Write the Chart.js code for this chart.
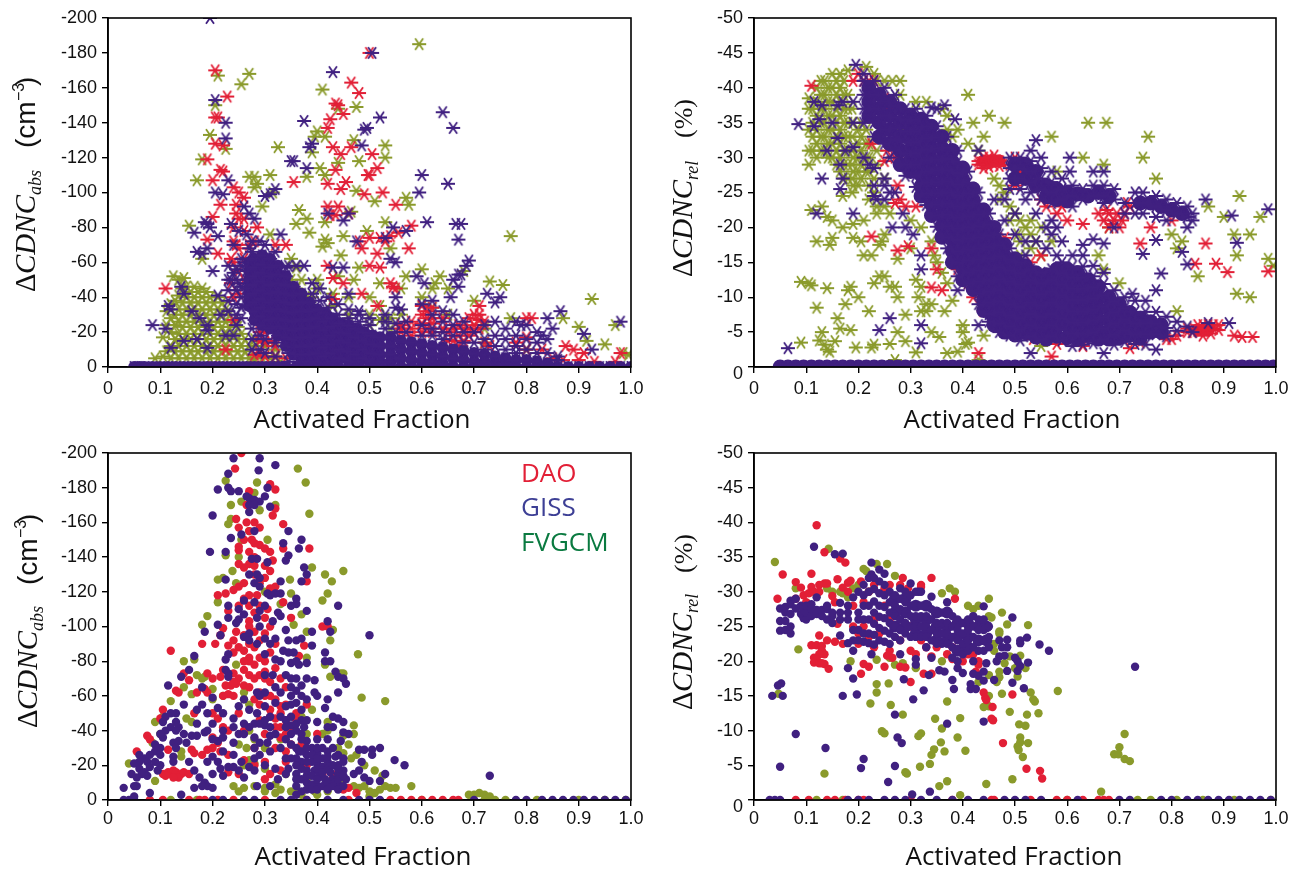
<!DOCTYPE html>
<html><head><meta charset="utf-8">
<style>html,body{margin:0;background:#fff}canvas{position:absolute}</style>
<script src="https://cdn.jsdelivr.net/npm/chart.js@4"></script>
</head><body>
<script>
const COLORS={FVGCM:'#8a9a2b',DAO:'#e21f36',GISS:'#402080'};
const xTicks=[0,.1,.2,.3,.4,.5,.6,.7,.8,.9,1];
const seriesNames=['GISS','DAO','FVGCM'];
// each row: x followed by the y values read at that x
const absStarFv=[[.09,-5],[.105,-6,-17],[.12,-5,-12,-20,-28,-36],[.125,-52],[.135,-5,-12,-19,-26,-33,-41,-50],[.145,-51],[.15,-5,-12,-19,-26,-33,-40,-46],[.155,-81],[.165,-5,-12,-19,-26,-33,-40,-46],[.17,-107],[.18,-5,-12,-19,-26,-33,-40,-45,-62,-119],[.195,-5,-12,-19,-26,-33,-40,-133],[.205,-150],[.21,-5,-12,-19,-26,-33,-40,-167],[.225,-5,-12,-19,-26,-33,-125],[.24,-5,-12,-19,-26],[.255,-5,-12,-19,-162],[.27,-5,-12,-109,-168],[.28,-5,-12,-103,-109],[.285,-105],[.295,-5,-92],[.31,-5,-110,-76],[.315,-100],[.325,-126],[.33,-3],[.35,-62],[.36,-82],[.365,-90],[.37,-50],[.38,-85,-109,-40],[.385,-77],[.39,-123,-40],[.395,-132],[.4,-135],[.405,-114],[.41,-159,-69],[.415,-132,-110,-83,-73],[.42,-71],[.44,-148,-117,-52],[.445,-64],[.45,-75],[.47,-130,-50],[.475,-149,-101],[.48,-118,-57],[.465,-89],[.495,-78],[.51,-95],[.52,-48],[.53,-127,-120,-83,-28],[.54,-68],[.57,-97,-52],[.575,-93],[.595,-185],[.6,-56],[.625,-48],[.635,-52],[.68,-55],[.73,-49],[.755,-47],[.77,-75,-28],[.87,-28],[.9,-23],[.915,-15],[.925,-39],[.95,-13],[.97,-24],[.985,-8],[.995,-7],
[.112,-9,-24,-32],[.128,-9,-16,-24,-30,-38],[.142,-9,-16,-23,-30,-37,-45],[.158,-9,-16,-23,-30,-37,-43],[.172,-9,-16,-23,-30,-37,-43],[.188,-9,-16,-23,-30,-37,-43],[.202,-9,-16,-23,-30,-37],[.218,-9,-16,-23,-30,-37],[.232,-9,-16,-23,-30],[.248,-9,-16,-23],[.262,-9,-16],[.28,-16,-3],[.3,-12],[.32,-10,-6],[.36,-57,-45],[.35,-50],[.4,-50,-45],[.43,-42,-35],[.46,-40,-30],[.5,-40,-30,-24],[.52,-35,-27],[.54,-28,-22],[.56,-45,-30],[.6,-40],[.62,-45,-34],[.65,-45,-30],[.7,-38],[.72,-22,-14],[.8,-10]];
const absStarDao=[[.2,-86,-107],[.205,-170,-143,-128],[.21,-143,-65],[.215,-113,-93],[.19,-119,-73],[.11,-45],[.22,-112,-127],[.225,-10],[.228,-155],[.24,-103,-27,-72],[.245,-93,-88,-70],[.25,-100,-85,-55],[.26,-97,-50,-62],[.28,-7,-42],[.285,-80],[.3,-30,-20],[.31,-28,-15],[.32,-70,-35],[.34,-70,-5,-30],[.355,-106],[.42,-137,-105,-92,-58],[.425,-142,-87],[.43,-126,-51,-39],[.435,-151,-113,-87],[.44,-150,-92],[.445,-122,-102],[.45,-145,-48],[.455,-106],[.46,-88],[.465,-163,-126],[.48,-157,-72],[.485,-68,-42],[.49,-99],[.497,-110],[.5,-180,-110,-74,-58],[.505,-122],[.515,-114,-65,-35],[.52,-74,-57],[.525,-100],[.53,-72],[.54,-75,-48],[.545,-46],[.55,-93,-45],[.555,-77],[.56,-22],[.575,-68],[.58,-81,-22],[.6,-30,-20],[.61,-28],[.62,-25],[.66,-15],[.67,-18],[.68,-15],[.69,-28],[.7,-30],[.71,-35,-27],[.8,-28,-17],[.81,-28],[.875,-12],[.89,-10],[.91,-8],[.98,-8],
[.24,-80,-60,-40],[.26,-85,-78],[.27,-70,-55],[.235,-62,-48],[.25,-68,-42],[.28,-72,-62],[.29,-20,-15,-8],[.3,-14,-6],[.32,-12,-6],[.56,-20,-24],[.58,-26,-18],[.6,-25,-35],[.61,-22,-32],[.62,-28,-34,-20],[.64,-28,-22],[.65,-20,-15],[.66,-22],[.67,-12,-24],[.68,-22],[.69,-22,-18],[.7,-24,-20],[.71,-22,-30],[.72,-26,-14],[.73,-12],[.78,-14],[.8,-10],[.83,-10],[.85,-5],[.87,-4],[.9,-4],[.93,-3],[.97,-3]];
const absStarGiss=[[.085,-24],[.11,-22],[.115,-35],[.12,-33,-11],[.14,-46],[.145,-42,-15],[.16,-32],[.165,-77],[.17,-66,-16],[.175,-28],[.18,-65],[.185,-83],[.19,-82,-68,-24,-21,-11],[.195,-200,-80],[.2,-55],[.205,-153,-100],[.21,-75,-41],[.215,-30],[.22,-99],[.225,-140,-131,-18],[.23,-107],[.235,-82,-50],[.24,-70,-54,-18],[.25,-78,-48],[.255,-46],[.26,-92],[.265,-76,-60,-55,-50,-45,-40,-35],[.27,-88,-68],[.28,-85,-62,-57,-52,-47,-42,-37,-32,-27],[.295,-64,-59,-54,-49,-44,-39,-34,-29,-24],[.3,-98],[.31,-99,-62,-57,-52,-47,-42,-37,-32,-27,-22],[.32,-102],[.325,-58,-53,-48,-43,-38,-33,-28,-23,-18],[.33,-76],[.34,-57,-52,-47,-42,-37,-32,-27,-22,-17,-12],[.35,-118],[.355,-118,-46,-41,-36,-31,-26,-21,-16,-11,-7],[.36,-58],[.37,-42,-37,-32,-27,-22,-17,-12,-7,-3],[.375,-141,-58],[.38,-114],[.385,-126,-37,-32,-27,-22,-17,-12,-7,-3],[.39,-128],[.4,-33,-28,-23,-18,-13,-8,-3],[.415,-31,-26,-21,-16,-11,-6,-2],[.42,-88],[.43,-169,-57,-28,-23,-18,-13,-8,-3],[.445,-25,-20,-15,-10,-5],[.45,-84,-57],[.46,-88,-42,-24,-19,-14,-9,-4],[.475,-72,-22,-17,-12,-7,-3],[.485,-127],[.49,-136,-20,-15,-10,-5],[.495,-137],[.505,-180,-18,-13,-8,-3],[.52,-143,-17,-12,-7,-3],[.53,-74],[.54,-62,-17,-12,-7,-3],[.545,-80],[.55,-60,-40],[.56,-33,-15,-10,-5],[.57,-78],[.58,-14,-9,-4],[.59,-52],[.595,-100],[.6,-110,-13,-8,-3],[.605,-48],[.61,-83],[.62,-38,-12,-7,-3],[.64,-146,-11,-6,-2],[.65,-105],[.655,-40],[.66,-137,-50,-10,-5],[.665,-82],[.67,-73,-53,-46],[.675,-82,-53],[.68,-9,-4],[.685,-58],[.69,-61],[.7,-8,-3],[.72,-7,-3],[.725,-42],[.74,-37,-6,-2],[.75,-40],[.76,-22,-5,-2],[.78,-26,-4],[.79,-24],[.8,-4],[.82,-20,-3],[.83,-18],[.84,-28,-2],[.85,-22],[.865,-32],[.91,-19],[.925,-10],[.98,-26],
[.23,-58,-50,-44,-38,-32],[.245,-56,-50,-44,-36,-30,-24],[.255,-62,-58,-40,-34,-28],[.275,-72,-66,-22,-16,-10],[.29,-72,-18,-10],[.3,-70,-16,-8],[.32,-66,-14,-6],[.345,-8,-3,-58],[.39,-48,-42],[.405,-45,-38],[.42,-40,-34],[.44,-36,-30],[.46,-33,-28],[.48,-30,-26,-32],[.5,-28,-24],[.53,-26,-22,-30],[.55,-34,-25,-20],[.57,-26,-20],[.6,-24,-18,-36],[.62,-30,-22,-18],[.64,-32,-26,-20,-16],[.66,-30,-24,-18],[.68,-26,-20,-14],[.7,-20,-14],[.72,-24,-16,-10],[.74,-26,-18,-12],[.76,-16,-10],[.78,-18,-12,-8],[.8,-24,-16,-10],[.82,-14,-8],[.84,-16,-8],[.86,-6,-4]];
const absStarGissCore=[[.27,-60,-55,-50,-45,-40,-35],[.28,-62,-57,-52,-47,-42,-37,-32,-27],[.295,-64,-59,-54,-49,-44,-39,-34,-29,-24],[.31,-62,-57,-52,-47,-42,-37,-32,-27,-22],[.325,-58,-53,-48,-43,-38,-33,-28,-23,-18],[.34,-52,-47,-42,-37,-32,-27,-22,-17,-12],[.355,-46,-41,-36,-31,-26,-21,-16,-11,-7],[.37,-42,-37,-32,-27,-22,-17,-12,-7,-3],[.385,-37,-32,-27,-22,-17,-12,-7,-3],[.4,-33,-28,-23,-18,-13,-8,-3],[.415,-31,-26,-21,-16,-11,-6,-2],[.43,-28,-23,-18,-13,-8,-3],[.445,-25,-20,-15,-10,-5],[.46,-24,-19,-14,-9,-4],[.475,-22,-17,-12,-7,-3],[.49,-20,-15,-10,-5],[.505,-18,-13,-8,-3],[.52,-17,-12,-7,-3],[.54,-17,-12,-7,-3],[.56,-15,-10,-5],[.58,-14,-9,-4],[.6,-13,-8,-3],[.62,-12,-7,-3],[.64,-11,-6,-2],[.66,-10,-5],[.68,-9,-4],[.7,-8,-3],[.72,-7,-3],[.74,-6,-2],[.76,-5,-2],[.78,-4],[.8,-4],[.82,-3],[.84,-2]];
const absStarBaseX=[.05,.06,.07,.085,.1,.115,.13,.145,.16,.175,.19,.205,.22,.235,.25,.265,.28,.295,.31,.325,.34,.36,.38,.4,.42,.44,.46,.48,.5,.52,.54,.56,.58,.6,.62,.64,.66,.68,.7,.72,.74,.76,.78,.8,.82,.84,.86,.88,.9,.92,.94,.96,.98,1];

const relStarFv=[[.09,-12.2,-3.5],[.105,-12,-29,-31,-34,-37,-38.5],[.11,-11.7,-22.5],[.12,-18,-8.5,-30,-32,-34,-36,-38,-40],[.125,-3.8],[.13,-23,-5],[.135,-3.2,-31,-33,-35,-37,-39,-41],[.14,-11.3,-2.5,-21.5],[.145,-2.2,-17.5],[.15,-21,-18.5,-30,-32,-34,-36,-38,-40,-42],[.155,-3.7],[.16,-7],[.165,-5.5,-28,-30,-32,-34,-36,-38,-40,-42],[.17,-20,-24.5],[.175,-9],[.18,-11,-27,-29,-31,-33,-35,-37,-39,-42.5],[.185,-11.5,-5.3],[.19,-20.5,-18.5,-26,-28,-30],[.195,-2.8],[.2,-10,-26,-28,-30,-32,-34],[.205,-18],[.21,-21,-16],[.215,-28,-30,-32,-34,-43],[.22,-8,-24],[.225,-16,-2.8],[.23,-12,-3.2,-25,-27,-42],[.235,-22],[.24,-13,-17.5],[.245,-18],[.25,-13,-19,-23],[.26,-11.5,-22,-3.3],[.265,-41],[.27,-11.5,-1],[.275,-10,-15.5,-5],[.28,-39],[.29,-7.5,-3.7],[.3,-17,-21],[.31,-12.5,-2.1,-38],[.315,-10],[.32,-11.5,-8,-20],[.33,-9,-8],[.34,-9,-18,-5],[.345,-16],[.35,-15],[.355,-4.3],[.36,-13.5],[.365,-8],[.37,-12,-2],[.38,-33,-9.5],[.39,-2.2],[.4,-6,-5],[.405,-3.3],[.41,-39,-3.5],[.42,-35],[.43,-1],[.44,-33,-4.5],[.45,-36],[.46,-27],[.47,-26],[.48,-35,-25],[.49,-23],[.5,-22],[.505,-19],[.51,-18],[.52,-20],[.53,-19,-21],[.54,-18],[.55,-3],[.57,-33],[.58,-28],[.63,-30],[.64,-35],[.66,-16],[.67,-29,-14],[.675,-35],[.68,-20],[.7,-12],[.745,-30],[.755,-33],[.77,-27],[.8,-19],[.81,-17,-8],[.82,-18],[.85,-13],[.87,-23],[.9,-21.5],[.92,-19],[.925,-16,-10.5],[.93,-24.5],[.95,-19,-10],[.97,-21.5],[.985,-15.5],[.995,-14.5],
[.112,-31,-33,-35,-37],[.128,-31,-33,-35,-37,-39,-41],[.142,-30,-32,-34,-36,-38,-40],[.158,-29,-31,-33,-35,-37,-39,-41],[.172,-27,-29,-31,-33,-35,-37,-39,-41],[.188,-25,-27,-29,-31,-33,-35,-37],[.205,-27,-29,-31,-33,-35],[.22,-26,-28,-30,-32,-36],[.235,-23,-29,-31,-41],[.25,-27,-41],[.28,-34,-41],[.37,-36,-34],[.39,-34],[.41,-32],[.43,-31],[.36,-37],[.33,-38],[.47,-24],[.49,-21],[.51,-21,-16],[.53,-17],[.55,-20,-16],[.57,-18]];
const relStarDao=[[.11,-40.3],[.19,-41],[.2,-42],[.21,-41],[.22,-41],[.225,-32,-18.7],[.23,-41],[.24,-39],[.25,-38.5,-29.5],[.255,-31],[.26,-37],[.27,-30,-23.5],[.275,-26,-16.7],[.28,-24],[.29,-23],[.295,-17.3],[.3,-30],[.31,-23],[.34,-17,-11.4],[.35,-14],[.36,-11],[.39,-14],[.41,-15,-12],[.42,-10],[.43,-29.5,-15,-2],[.44,-28.5,-8],[.45,-30,-8],[.46,-29,-7],[.47,-29.5],[.48,-18.5],[.49,-29,-10],[.5,-30,-26],[.51,-28],[.52,-27],[.53,-15,-5],[.535,-4],[.55,-24,-16],[.56,-23],[.57,-1.5],[.58,-22,-3.3],[.59,-23],[.6,-21],[.63,-20.5,-3],[.66,-22],[.67,-21],[.68,-22,-20],[.69,-21],[.7,-20,-8],[.71,-22],[.715,-23.5],[.72,-23,-7,-2.7],[.74,-17.7,-3.5],[.76,-20],[.79,-4],[.8,-21,-4],[.81,-4.5],[.83,-5.5],[.84,-5],[.845,-14.8],[.85,-5.2],[.86,-6],[.865,-17.7],[.87,-5.5],[.88,-5.5],[.885,-14.8],[.89,-5.3],[.907,-13.6],[.92,-4.5],[.935,-4.3],[.955,-4.3],[.985,-13.7],
[.43,-29],[.44,-30],[.45,-28.7],[.46,-30.3],[.47,-28.8],[.83,-5],[.85,-6],[.86,-4.5],[.87,-6],[.875,-4.8],[.88,-6],[.89,-6],[.865,-5.5],[.675,-22.5],[.685,-20.5],[.695,-22],[.705,-21]];
const relStarDaoCore=[[.44,-29.5],[.455,-29.5],[.47,-29.5],[.85,-5.3],[.87,-5.3]];
const relStarGiss=[[.065,-2.7],[.085,-34.8],[.115,-38,-34.5],[.12,-22],[.125,-35.5],[.13,-37.5,-27],[.14,-31],[.15,-35],[.16,-37.5,-32.8],[.165,-29,-25.5],[.17,-38,-27],[.175,-31],[.19,-38,-35,-31.5,-22],[.195,-43.3],[.21,-42,-41,-39,-37,-35,-30],[.23,-41,-39,-37,-35,-33,-26,-24.5,-28.5],[.24,-5.3],[.25,-40,-38,-36,-34,-32,-26,-24],[.26,-7],[.265,-20],[.27,-39,-37.4,-35.8,-34.2,-32.6,-31,-25],[.285,-22],[.29,-37,-35.4,-33.8,-32.2,-30.6,-29,-27.4,-20],[.305,-19],[.31,-37,-35.4,-33.8,-32.2,-30.6,-29,-27.4,-25.8],[.32,-16,-14,-6,-3.4],[.33,-36,-34.4,-32.8,-31.2,-29.6,-28,-26.4,-24.8,-23.2],[.34,-37.2],[.35,-37,-34.5,-32.9,-31.3,-29.7,-28.1,-26.5,-24.9,-23.3,-21.7,-20.1],[.365,-37.5],[.37,-33,-31.4,-29.8,-28.2,-26.6,-25,-23.4,-21.8,-20.2,-18.6,-17],[.385,-35.5],[.39,-31,-29.4,-27.8,-26.2,-24.6,-23,-21.4,-19.8,-18.2,-16.6,-15,-13,-11],[.41,-28,-26.4,-24.8,-23.2,-21.6,-20,-18.4,-16.8,-15.2,-13.6,-12],[.43,-31,-25,-23.4,-21.8,-20.2,-18.6,-17,-15.4,-13.8,-12.2,-10.6,-9,-6],[.45,-22,-20.4,-18.8,-17.2,-15.6,-14,-12.4,-10.8,-9.2,-7.6,-6.5],[.47,-19,-17.4,-15.8,-14.2,-12.6,-11,-9.4,-7.8,-6.2,-5],[.49,-30,-28.5,-27,-25.5,-17,-15.4,-13.8,-12.2,-10.6,-9,-7.4,-5.8,-4.5],[.51,-30,-28.5,-27,-25.5,-15,-13.4,-11.8,-10.2,-8.6,-7,-5.4,-3.8],[.53,-31,-29.5,-28,-26.5,-25,-14,-12.4,-10.8,-9.2,-7.6,-6,-4.4,-2],[.54,-32.5],[.55,-30,-28.5,-27,-25.5,-24,-13.5,-12,-10.4,-8.8,-7.2,-5.6,-4],[.57,-28,-26.5,-25,-23.5,-21,-19,-14,-12.4,-10.8,-9.2,-7.6,-6,-4.4],[.59,-27,-25.5,-24,-18,-15,-13.4,-11.8,-10.2,-8.6,-7,-5.4,-3.8],[.605,-30,-28],[.61,-26,-24.5,-23,-16,-14.4,-12.8,-11.2,-9.6,-8,-6.4,-4.8,-3],[.63,-25.5,-24,-17.5,-16,-14.4,-12.8,-11.2,-9.6,-8,-6.4,-4.8,-3.2],[.65,-28,-26,-24.5,-18.3,-14.5,-13,-11.4,-9.8,-8.2,-6.6,-5,-3.4],[.67,-28,-26,-24.5,-23.5,-17.7,-13.5,-11.9,-10.3,-8.7,-7.1,-5.5,-3.9,-2],[.69,-25.5,-24,-20,-11,-9.4,-7.8,-6.2,-4.6,-3.2],[.71,-23.5,-22,-10,-8.4,-6.8,-5.2,-3.6],[.725,-10.5],[.73,-25,-23.5,-22,-9.5,-7.9,-6.3,-4.7,-3.3],[.745,-25,-23.5,-22,-16.2],[.75,-9.5,-7.9,-6.3,-4.7,-3.2],[.77,-24.5,-23,-21.5,-18.2,-11,-7.9,-6.3,-4.7,-2.5],[.78,-13.4],[.79,-24,-22.5,-21,-7.2,-5.6,-4.4],[.81,-23.5,-22,-6.5,-5.2],[.82,-16.5],[.83,-23,-21.5,-20,-14.7,-5.8],[.84,-22,-21,-5],[.865,-24],[.87,-6.3],[.91,-6.3],[.915,-21.7],[.925,-17.8],[.985,-22.6],
[.22,-29],[.235,-24],[.25,-27],[.26,-25,-30],[.5,-22,-19],[.52,-24,-18,-16],[.54,-22,-18],[.56,-20,-17],[.58,-20,-16],[.48,-24,-21],[.46,-24]];
const relStarGissCore=[[.22,-40,-38,-36],[.24,-39,-37,-35,-33],[.26,-38,-36,-34,-32],[.28,-37,-35,-33,-31,-29],[.3,-36,-34.4,-32.8,-31.2,-29.6,-28],[.32,-35.5,-33.9,-32.3,-30.7,-29.1,-27.5,-25.9,-24.5],[.34,-34.5,-32.9,-31.3,-29.7,-28.1,-26.5,-24.9,-23.3,-21.7],[.36,-33,-31.4,-29.8,-28.2,-26.6,-25,-23.4,-21.8,-20.2,-18.6],[.38,-31,-29.4,-27.8,-26.2,-24.6,-23,-21.4,-19.8,-18.2,-16.6,-15],[.4,-28.5,-26.9,-25.3,-23.7,-22.1,-20.5,-18.9,-17.3,-15.7,-14.1,-12.5],[.42,-25.5,-23.9,-22.3,-20.7,-19.1,-17.5,-15.9,-14.3,-12.7,-11.1],[.44,-22.5,-20.9,-19.3,-17.7,-16.1,-14.5,-12.9,-11.3,-9.7,-8.1],[.46,-20,-18.4,-16.8,-15.2,-13.6,-12,-10.4,-8.8,-7.2,-6],[.48,-17.5,-15.9,-14.3,-12.7,-11.1,-9.5,-7.9,-6.3,-5],[.5,-15.5,-13.9,-12.3,-10.7,-9.1,-7.5,-5.9,-4.6],[.52,-14.5,-12.9,-11.3,-9.7,-8.1,-6.5,-4.9],[.54,-13.5,-11.9,-10.3,-8.7,-7.1,-5.5,-4.3],[.56,-13.2,-11.6,-10,-8.4,-6.8,-5.2,-4],[.58,-14,-12.4,-10.8,-9.2,-7.6,-6,-4.4],[.6,-14,-12.4,-10.8,-9.2,-7.6,-6,-4.2],[.62,-13.5,-11.9,-10.3,-8.7,-7.1,-5.5,-4],[.64,-12.5,-10.9,-9.3,-7.7,-6.1,-4.5],[.66,-11.5,-9.9,-8.3,-6.7,-5.1,-4],[.68,-10,-8.4,-6.8,-5.2,-4],[.7,-9,-7.4,-5.8,-4.2],[.72,-7.8,-6.2,-4.6],[.74,-7,-5.4,-4.2],[.76,-6.5,-5],[.78,-6,-5],[.5,-29,-27],[.52,-29,-27],[.54,-28,-26],[.56,-26,-24.5],[.58,-25.5,-24],[.6,-25,-23.8],[.62,-24.8],[.64,-24.5],[.66,-25],[.68,-24.5],[.74,-23.5],[.76,-23.5],[.78,-23],[.8,-22.5],[.82,-22]];
const relStarBaseX=[.05,.065,.08,.095,.11,.125,.14,.155,.17,.185,.2,.215,.23,.245,.26,.275,.29,.305,.32,.335,.35,.365,.38,.395,.41,.425,.44,.455,.47,.485,.5,.515,.53,.545,.56,.575,.59,.605,.62,.635,.65,.665,.68,.695,.71,.725,.74,.755,.77,.785,.8,.815,.83,.845,.86,.875,.89,.905,.92,.935,.95,.965,.98,.995];

const absDotFv=[[.363,-191],[.378,-183],[.225,-184],[.28,-177],[.285,-183],[.255,-172],[.235,-170],[.32,-170],[.385,-165],[.23,-159],[.235,-162],[.29,-167],[.255,-150],[.305,-150],[.27,-155],[.225,-141],[.39,-134],[.45,-132],[.238,-132],[.21,-127],[.22,-128],[.415,-130],[.428,-126],[.348,-127],[.245,-125],[.42,-119],[.41,-115],[.35,-119],[.21,-114],[.19,-106],[.18,-101],[.33,-113],[.37,-107],[.355,-101],[.38,-97],[.43,-98],[.425,-92],[.145,-80],[.165,-81],[.478,-84],[.38,-82],[.415,-78],[.245,-78],[.45,-73],[.445,-73],[.17,-72],[.18,-70],[.185,-71],[.425,-71],[.145,-65],[.16,-61],[.2,-64],[.485,-59],[.53,-57],[.12,-57],[.26,-62],[.26,-58],[.27,-55],[.2,-58],[.39,-52],[.105,-48],[.09,-45],[.15,-47],[.16,-45],[.37,-48],[.42,-45],[.47,-43],[.47,-38],[.1,-38],[.085,-33],[.14,-28],[.14,-25],[.38,-38],[.42,-40],[.45,-37],[.25,-32],[.265,-30],[.3,-30],[.27,-23],[.28,-21],[.3,-18],[.45,-27],[.465,-24],[.475,-26],[.49,-20],[.51,-17],[.525,-14],[.09,-11],[.24,-8],[.26,-7],[.28,-8],[.25,-5],[.3,-7],[.32,-9],[.32,-4],[.35,-5],[.36,-5],[.395,-5],[.4,-3],[.47,-8],[.48,-7],[.5,-5],[.51,-4],[.53,-8],[.54,-7],[.55,-7],[.58,-8],[.69,-3],[.7,-3],[.71,-4],[.72,-3],[.73,-2],[.445,-11],[.04,-21],[.5,-2],[.37,-3],
[.25,-140],[.3,-120],[.22,-60],[.27,-40],[.28,-35],[.26,-20],[.33,-35],[.34,-15],[.3,-5],[.33,-6],[.44,-30],[.46,-32],[.41,-38],[.38,-12],[.42,-5],[.49,-8],[.52,-6]];
const absDotDao=[[.255,-200],[.243,-191],[.31,-182],[.32,-179],[.27,-178],[.265,-170],[.32,-168],[.315,-164],[.245,-162],[.335,-159],[.25,-157],[.265,-160],[.28,-160],[.29,-157],[.27,-155],[.275,-150],[.25,-146],[.29,-147],[.3,-145],[.335,-145],[.385,-145],[.27,-143],[.31,-143],[.315,-138],[.27,-136],[.26,-134],[.3,-135],[.31,-132],[.28,-130],[.38,-126],[.32,-123],[.25,-123],[.24,-121],[.21,-118],[.225,-119],[.26,-116],[.335,-114],[.27,-112],[.305,-110],[.23,-109],[.35,-105],[.41,-100],[.42,-100],[.22,-99],[.245,-97],[.28,-97],[.3,-96],[.215,-95],[.18,-90],[.205,-90],[.375,-89],[.23,-89],[.25,-88],[.12,-86],[.26,-86],[.27,-82],[.365,-83],[.27,-80],[.28,-78],[.26,-75],[.32,-76],[.3,-74],[.145,-73],[.19,-73],[.215,-71],[.25,-70],[.27,-72],[.3,-70],[.155,-69],[.185,-64],[.225,-66],[.235,-66],[.245,-67],[.26,-66],[.13,-63],[.135,-62],[.19,-62],[.34,-65],[.23,-61],[.3,-60],[.38,-55],[.105,-52],[.165,-50],[.2,-50],[.25,-50],[.31,-52],[.36,-50],[.1,-47],[.21,-47],[.32,-47],[.36,-46],[.22,-42],[.33,-42],[.075,-37],[.08,-35],[.3,-38],[.34,-38],[.115,-29],[.16,-29],[.165,-27],[.18,-26],[.2,-30],[.215,-28],[.055,-28],[.23,-26],[.32,-30],[.34,-28],[.105,-15],[.115,-16],[.12,-15],[.125,-17],[.13,-16],[.14,-15],[.135,-13],[.145,-16],[.155,-15],[.125,-13],[.11,-14],[.23,-16],[.25,-15],[.31,-15],[.33,-17],[.3,-12],[.43,-13],[.46,-7],[.45,-6],[.475,-4],[.19,-29],[.21,-33],[.26,-23],[.29,-46],[.33,-54],[.28,-58],[.24,-73],[.29,-82],[.31,-85],[.24,-92],[.27,-103],[.285,-118],
[.25,-144,-136,-112],[.26,-150,-125,-95,-80],[.27,-118,-100,-90,-65],[.28,-148,-140,-135,-108,-88,-70],[.29,-125,-112,-92,-72,-62,-55],[.3,-128,-105,-80],[.31,-122,-100,-68,-60,-48],[.32,-90,-58,-42],[.33,-70,-50,-36],[.34,-55,-46,-22],[.35,-40,-32],[.24,-85,-68,-60],[.22,-75,-60],[.2,-70,-36],[.17,-62],[.23,-40],[.26,-40],[.28,-30,-20],[.3,-22],[.37,-32],[.38,-20],[.41,-15],[.42,-10],[.44,-16],[.4,-38]];
const absDotGiss=[[.24,-197],[.29,-197],[.288,-190],[.32,-193],[.23,-188],[.21,-179],[.23,-180],[.235,-178],[.25,-178],[.265,-175],[.27,-174],[.28,-173],[.29,-172],[.3,-175],[.305,-180],[.27,-170],[.28,-170],[.27,-166],[.2,-164],[.31,-169],[.28,-155],[.345,-155],[.255,-153],[.235,-151],[.37,-150],[.335,-148],[.365,-145],[.195,-143],[.225,-143],[.345,-141],[.34,-138],[.275,-139],[.285,-139],[.305,-137],[.375,-134],[.38,-130],[.27,-130],[.285,-130],[.29,-128],[.225,-127],[.28,-125],[.33,-126],[.37,-126],[.29,-123],[.305,-119],[.31,-118],[.32,-119],[.33,-119],[.36,-116],[.36,-113],[.35,-112],[.44,-112],[.23,-112],[.26,-115],[.28,-114],[.3,-112],[.38,-109],[.25,-110],[.29,-109],[.325,-108],[.33,-106],[.23,-105],[.25,-104],[.26,-107],[.285,-105],[.42,-103],[.21,-101],[.245,-102],[.315,-103],[.29,-100],[.34,-98],[.39,-97],[.425,-97],[.185,-97],[.215,-95],[.26,-94],[.27,-96],[.27,-92],[.3,-93],[.32,-93],[.345,-92],[.36,-92],[.37,-93],[.31,-90],[.285,-90],[.39,-89],[.335,-86],[.345,-85],[.355,-85],[.3,-84],[.415,-85],[.23,-84],[.225,-81],[.32,-81],[.33,-80],[.35,-79],[.36,-80],[.365,-78],[.38,-79],[.165,-83],[.155,-75],[.415,-80],[.425,-80],[.225,-75],[.23,-73],[.23,-71],[.34,-72],[.35,-70],[.36,-70],[.3,-72],[.315,-72],[.14,-71],[.395,-69],[.38,-70],[.435,-74],[.44,-71],[.45,-70],[.455,-67],[.115,-66],[.18,-65],[.32,-65],[.33,-62],[.35,-65],[.36,-63],[.37,-60],[.3,-62],[.285,-62],[.395,-62],[.4,-60],[.42,-58],[.44,-62],[.35,-55],[.37,-52],[.38,-58],[.2,-59],[.145,-55],[.18,-55],[.17,-52],[.19,-50],[.21,-53],[.22,-50],[.27,-52],[.285,-50],[.12,-50],[.13,-50],[.415,-53],[.43,-48],[.44,-47],[.45,-45],[.11,-48],[.105,-45],[.24,-47],[.28,-44],[.3,-43],[.31,-42],[.34,-46],[.35,-43],[.375,-42],[.4,-45],[.42,-42],[.43,-42],[.45,-39],[.46,-38],[.11,-40],[.12,-42],[.135,-42],[.13,-40],[.145,-38],[.185,-39],[.19,-40],[.22,-40],[.25,-38],[.26,-38],[.31,-37],[.35,-38],[.36,-40],[.37,-38],[.105,-36],[.1,-38],[.125,-33],[.135,-34],[.15,-33],[.09,-32],[.09,-28],[.1,-30],[.21,-34],[.2,-35],[.24,-33],[.29,-33],[.305,-33],[.34,-35],[.38,-34],[.39,-30],[.4,-35],[.42,-35],[.445,-34],[.48,-29],[.49,-29],[.505,-29],[.52,-30],[.505,-26],[.09,-22],[.07,-24],[.075,-22],[.06,-22],[.05,-21],[.045,-15],[.055,-13],[.06,-18],[.065,-15],[.07,-16],[.075,-14],[.095,-17],[.1,-20],[.125,-25],[.125,-22],[.155,-22],[.165,-17],[.175,-13],[.185,-10],[.19,-8],[.2,-7],[.19,-22],[.2,-25],[.21,-22],[.215,-18],[.23,-19],[.24,-19],[.25,-17],[.255,-22],[.27,-19],[.28,-17],[.26,-13],[.325,-12],[.34,-15],[.36,-24],[.37,-22],[.38,-26],[.38,-17],[.39,-22],[.395,-17],[.4,-27],[.4,-21],[.405,-14],[.41,-24],[.41,-19],[.415,-12],[.42,-28],[.42,-22],[.425,-16],[.43,-12],[.435,-25],[.44,-20],[.44,-15],[.44,-9],[.45,-22],[.45,-17],[.455,-12],[.47,-15],[.48,-17],[.49,-13],[.5,-11],[.52,-11],[.53,-15],[.548,-23],[.567,-20],[.485,-22],[.5,-95],[.365,-28],[.35,-24],[.345,-18],[.36,-15],[.37,-12],[.38,-10],[.39,-9],[.4,-8],[.415,-8],[.03,-7],[.05,-8],[.055,-8],[.08,-4],[.14,-3],[.165,-7],[.18,-8],[.73,-14],[.285,-8],[.31,-8],[.36,-3],[.05,-2],
[.36,-30,-20,-12,-8],[.37,-35,-28,-18,-5],[.38,-30,-22,-14,-6],[.39,-26,-14,-6],[.4,-30,-24,-18,-12,-6],[.41,-30,-16,-8],[.42,-25,-18,-10,-6],[.43,-30,-20,-8],[.44,-26,-18,-12,-6],[.45,-24,-14,-8],[.28,-36,-30,-24],[.29,-60,-44,-26],[.3,-54,-46,-20],[.31,-48,-28],[.32,-56,-38,-18],[.33,-48,-30],[.34,-54,-42,-24],[.35,-60,-48,-32],[.36,-56,-44],[.37,-66,-46],[.38,-46],[.27,-42],[.26,-58,-44],[.25,-54],[.24,-42,-26],[.22,-36,-28,-14],[.2,-44,-15],[.17,-44,-37],[.16,-37],[.13,-45,-30],[.1,-26],[.08,-26,-19],[.06,-26]];
const absDotBaseFv=[.12,.17,.6,.72,.74,.76,.82,.9,.95,.99];
const absDotBaseDao=[.08,.105,.155,.175,.185,.21,.24,.3,.38,.46,.54,.56,.58,.6,.62,.64,.66,.67];
const absDotBaseGiss=[.03,.04,.05,.2,.22,.26,.28,.33,.35,.38,.42,.45,.48,.5,.52,.7,.78,.8,.83,.85,.87,.89,.91,.93,.95,.97,.99];

const relDotFv=[[.04,-34.3],[.143,-36.2],[.255,-34],[.21,-33.3],[.215,-33],[.235,-34],[.27,-32.3],[.375,-30.5],[.385,-30],[.36,-29.8],[.45,-29],[.08,-30.5],[.14,-30.5],[.165,-30],[.17,-29.8],[.41,-28],[.42,-27.5],[.43,-28],[.45,-26.5],[.455,-26.3],[.475,-27],[.485,-25.3],[.525,-25.2],[.47,-24.3],[.47,-24],[.46,-22.5],[.46,-21.5],[.085,-21.7],[.185,-20],[.235,-20.2],[.26,-20.5],[.27,-19.5],[.285,-19.7],[.31,-19],[.36,-20],[.49,-20.7],[.51,-20.8],[.48,-19.7],[.5,-19],[.52,-19],[.47,-18.5],[.45,-18],[.47,-17.7],[.505,-17.8],[.43,-17],[.465,-17],[.235,-16.7],[.258,-16.8],[.047,-15.3],[.235,-15.5],[.45,-15],[.475,-15.3],[.53,-15.5],[.535,-14.5],[.538,-14.2],[.582,-15.7],[.223,-13.9],[.262,-13.7],[.37,-14.2],[.45,-13.5],[.44,-13.4],[.49,-12.7],[.285,-12.3],[.523,-12.3],[.545,-12.5],[.347,-11.7],[.395,-11.8],[.36,-10.3],[.508,-10.9],[.52,-10.7],[.245,-9.9],[.25,-9.6],[.315,-9.2],[.32,-9.6],[.39,-9],[.51,-9],[.71,-9.5],[.358,-8.3],[.51,-8.3],[.525,-8.2],[.345,-7.3],[.505,-7.7],[.507,-7.2],[.7,-7.6],[.365,-7],[.405,-7.1],[.34,-6.5],[.69,-6.6],[.698,-6.6],[.71,-5.9],[.72,-5.6],[.515,-6.2],[.337,-5.2],[.318,-4.8],[.135,-3.8],[.29,-4],[.293,-3.8],[.37,-2.7],[.355,-2],[.445,-2.3],[.495,-3],[.665,-1.2],[.395,-.7],[.19,-30.5],[.2,-31],[.12,-29.5],[.15,-30],[.18,-29.2],[.22,-30]];
const relDotDao=[[.12,-39.6],[.135,-35.7],[.165,-34.8],[.175,-34.2],[.055,-32.5],[.11,-32.6],[.285,-32],[.34,-32],[.08,-31.4],[.09,-30.6],[.11,-30.7],[.125,-31],[.135,-31.2],[.14,-31.2],[.16,-31.8],[.18,-31.3],[.185,-31.6],[.17,-30.6],[.205,-31.5],[.32,-31],[.32,-30.7],[.28,-31],[.295,-30.5],[.045,-29],[.095,-29.5],[.105,-29.8],[.115,-30],[.125,-30],[.15,-29.4],[.18,-30],[.385,-29],[.08,-29],[.1,-28.5],[.155,-28.5],[.19,-28],[.21,-28.5],[.16,-25.4],[.125,-23.7],[.14,-23],[.155,-22.8],[.17,-22.5],[.11,-22.3],[.12,-22.3],[.13,-22.2],[.13,-21.5],[.135,-21],[.125,-21],[.115,-20.5],[.12,-20.3],[.115,-19.8],[.125,-19.7],[.13,-19.7],[.135,-19.6],[.143,-18.9],[.205,-18.2],[.21,-19.6],[.22,-19.2],[.25,-19.2],[.255,-20.8],[.265,-20.5],[.28,-19.2],[.29,-19.1],[.31,-21],[.33,-22],[.3,-17],[.325,-18.2],[.34,-18.2],[.425,-18.5],[.44,-15.5],[.443,-14.7],[.445,-14.4],[.457,-13.4],[.455,-11.7],[.458,-11.5],[.495,-15.2],[.477,-8.2],[.522,-4.5],[.548,-4.2],[.552,-3.1],[.2,-24],[.21,-25],[.22,-23.5],[.23,-26],[.24,-24],[.25,-28],[.26,-26],[.27,-27],[.28,-23],[.3,-25],[.31,-24],[.32,-23],[.33,-26],[.35,-22],[.37,-21],[.38,-22],[.4,-22],[.41,-21],[.42,-21],[.43,-20],[.22,-30],[.23,-31],[.25,-30.5],[.26,-31],[.19,-25],[.2,-22.5],[.23,-22],[.26,-21.5],[.3,-21.5],[.34,-20.7],[.38,-20.3],[.4,-20],[.43,-19.5]];
const relDotGiss=[[.115,-36.5],[.155,-35.4],[.17,-35.5],[.225,-34.2],[.24,-33.2],[.225,-32.5],[.25,-32.6],[.3,-31.2],[.315,-30],[.73,-19.2],[.565,-21.5],[.547,-22.4],[.523,-23.4],[.495,-26.3],[.44,-27.9],[.035,-15],[.046,-16.5],[.052,-16.8],[.055,-15],[.05,-4.8],[.08,-9.5],[.137,-7.5],[.17,-15],[.197,-15.2],[.19,-17.5],[.18,-19],[.205,-4.6],[.21,-5.9],[.257,-2.6],[.27,-4.9],[.275,-9],[.283,-8.2],[.27,-12.3],[.287,-17.4],[.305,-14.5],[.325,-15.8],[.37,-11],[.44,-11.3],[.337,-1.2],[.303,-.8],[.38,-17.3],[.383,-16],[.415,-16.7],[.415,-16],[.425,-16],[.46,-17.3],[.44,-17.2],[.495,-16.9],[.517,-16.1],[.42,-18.2],[.43,-17.9],[.44,-18.5],[.31,-19.5],[.335,-18],[.355,-18.7],[.365,-18.5],[.39,-19],[.4,-18.3],[.485,-18.6],[.505,-18.6],[.525,-19.8],[.51,-19.3],[.505,-20],[.5,-20.5],[.47,-20.7],[.48,-20.8],[.465,-20],[.445,-19.7],[.485,-23.1],[.47,-23],[.51,-23],[.51,-22.6],[.475,-22],[.485,-22],[.28,-21],[.31,-20.3],[.34,-20.5],[.225,-21],[.05,-27.6],[.05,-25.8],[.05,-24.4],[.06,-27.8],[.06,-27],[.06,-25.8],[.06,-24.5],[.07,-28.7],[.07,-28.2],[.07,-26.8],[.07,-25],[.08,-29],[.08,-27.6],[.07,-24],[.09,-28],[.09,-26.8],[.095,-26.2],[.095,-27.5],[.1,-26],[.1,-27],[.1,-28],[.11,-26.5],[.11,-27.5],[.11,-28.2],[.12,-26.8],[.12,-27.4],[.12,-29.2],[.13,-26.5],[.13,-27.4],[.14,-26],[.14,-27.5],[.14,-28],[.15,-25.5],[.15,-26.5],[.15,-27],[.165,-27],[.165,-26],[.165,-28.4],[.165,-23.7],[.18,-27],[.18,-26],[.18,-28],[.18,-22.6],[.19,-29.2],[.19,-24.5],[.19,-21.5],[.19,-23],[.2,-27],[.2,-26],[.2,-24.5],[.2,-30],[.2,-23],[.21,-31],[.21,-29.5],[.21,-28],[.21,-26],[.21,-24],[.21,-22.8],[.22,-32],[.22,-30],[.22,-28],[.22,-26],[.22,-24],[.22,-22.6],[.23,-32],[.23,-30.4],[.23,-28.6],[.23,-27],[.23,-25.4],[.23,-23.8],[.23,-22.4],[.24,-31.5],[.24,-29.8],[.24,-28],[.24,-26.4],[.24,-24.8],[.24,-23],[.25,-31],[.25,-29.5],[.25,-27.8],[.25,-26.2],[.25,-24.4],[.25,-22.8],[.26,-30],[.26,-28.5],[.26,-27],[.26,-25.5],[.26,-24],[.26,-22.5],[.27,-29.5],[.27,-28],[.27,-26.5],[.27,-25],[.27,-23.5],[.28,-30.5],[.28,-29],[.28,-27.5],[.28,-26],[.28,-24.5],[.28,-23],[.29,-30],[.29,-28.5],[.29,-27],[.29,-25.5],[.29,-24],[.3,-29.5],[.3,-28],[.3,-26.5],[.3,-25],[.3,-23.5],[.31,-30],[.31,-28],[.31,-26.5],[.31,-25],[.31,-23.5],[.32,-30],[.32,-28],[.32,-26.5],[.32,-25],[.32,-23.5],[.33,-28],[.33,-26.5],[.33,-25],[.33,-23.5],[.33,-22],[.34,-29.3],[.34,-27.5],[.34,-26],[.34,-24.5],[.34,-23],[.35,-27],[.35,-25.5],[.35,-24],[.35,-22.5],[.36,-27],[.36,-25.5],[.36,-24],[.36,-22.5],[.37,-28.5],[.37,-27],[.37,-25.5],[.37,-24],[.37,-22.5],[.38,-26.5],[.38,-25],[.38,-23.5],[.38,-22],[.38,-20.5],[.39,-26],[.39,-24.5],[.39,-23],[.39,-21.5],[.39,-20],[.4,-25.5],[.4,-24],[.4,-22.5],[.4,-21],[.41,-26],[.41,-24.5],[.41,-23],[.41,-21.5],[.42,-26.5],[.42,-25],[.42,-23.5],[.42,-22],[.42,-20],[.43,-26],[.43,-24.5],[.43,-23],[.43,-21.5],[.44,-26],[.44,-24.5],[.44,-23],[.44,-21.5],[.45,-25],[.45,-23.5],[.45,-22]];
const relDotGissCore=[[.27,-29,-27,-25],[.29,-29,-27,-25],[.31,-28,-26,-24],[.33,-28,-26,-24],[.35,-27,-25,-23],[.37,-27,-25,-23],[.39,-25.5,-23.5,-21.5],[.41,-25.5,-23.5,-22],[.43,-25,-23],[.445,-25,-23]];
const relDotBaseFv=[.12,.17,.6,.735,.76,.81,.86,.92,.99];
const relDotBaseDao=[.08,.105,.14,.155,.175,.2,.21,.3,.38,.455,.46,.53,.58,.6,.63,.66,.67,.68];
const relDotBaseGiss=[.03,.04,.05,.18,.2,.22,.25,.27,.29,.32,.35,.38,.41,.44,.48,.5,.52,.55,.62,.7,.72,.78,.8,.83,.85,.87,.89,.91,.93,.95,.97,.99];

function rows(list,baseX){const pts=[];for(const r of list)for(let i=1;i<r.length;i++)pts.push({x:r[0],y:r[i]});
 if(baseX)for(const x of baseX)pts.push({x,y:0});return pts;}

function starImage(color){const c=document.createElement('canvas');c.width=16;c.height=14;const g=c.getContext('2d');
 g.strokeStyle=color;g.lineWidth=1.8;g.beginPath();
 g.moveTo(1,7);g.lineTo(15,7);g.moveTo(4,1.2);g.lineTo(12,12.8);g.moveTo(12,1.2);g.lineTo(4,12.8);g.stroke();return c;}

const frame={id:'frame',afterDatasetsDraw(ch){const ar=ch.chartArea,g=ch.ctx;g.save();g.strokeStyle='#000';g.lineWidth=1.6;
 g.strokeRect(ar.left,ar.top,ar.right-ar.left,ar.bottom-ar.top);g.restore();}};
const titles={id:'titles',afterDraw(ch,a,o){const g=ch.ctx;g.save();g.fillStyle='#111';g.textBaseline='alphabetic';
 g.font='26px "Open Sans"';g.textAlign='center';g.fillText('Activated Fraction',o.xt[0]-o.ox,o.xt[1]-o.oy);
 g.textAlign='left';
 for(const l of o.legend||[]){g.fillStyle=l[1];g.font='26px "Open Sans"';g.fillText(l[0],l[2]-o.ox,l[3]-o.oy);}
 g.fillStyle='#111';
 g.translate(o.yt.x-o.ox,-o.oy);g.rotate(-Math.PI/2);
 const run=(t,f,pos,dy)=>{g.font=f;g.fillText(t,-pos,dy||0);};
 run('Δ','29px "Liberation Serif"',o.yt.start);
 run('CDNC','italic 29px "Liberation Serif"',o.yt.start-18);
 run(o.yt.sub,'italic 18px "Liberation Serif"',o.yt.subPos,6);
 if(o.yt.sup){run('(cm','28px "Liberation Sans"',o.yt.unit);run('−3','16px "Liberation Sans"',o.yt.unit-47,-11);run(')','28px "Liberation Sans"',o.yt.unit-62);}
 else{run('(%)','26px "Liberation Serif"',o.yt.unit);}
 g.restore();}};

function panel(cfg){const W=650,H=435;const cv=document.createElement('canvas');cv.width=W;cv.height=H;
 cv.style.left=cfg.ox+'px';cv.style.top=cfg.oy+'px';cv.style.width=W+'px';cv.style.height=H+'px';document.body.appendChild(cv);
 const mk=(n,data)=>({label:n,data,showLine:false,clip:0,pointStyle:cfg.star?starImage(COLORS[n]):'circle',pointRadius:cfg.star?7:4.2,
  backgroundColor:COLORS[n],borderColor:COLORS[n],borderWidth:0});
 const core=(n,data,r)=>({label:n,data,showLine:false,clip:0,pointStyle:'circle',pointRadius:r,backgroundColor:COLORS[n],borderColor:COLORS[n],borderWidth:0});
 const sets=[mk('GISS',cfg.giss)];
 if(cfg.gissCore)sets.push(core('GISS',cfg.gissCore,cfg.coreR));
 sets.push(mk('DAO',cfg.dao));
 if(cfg.daoCore)sets.push(core('DAO',cfg.daoCore,cfg.coreR-1));
 sets.push(mk('FVGCM',cfg.fv));
 new Chart(cv,{type:'scatter',plugins:[frame,titles],data:{datasets:sets},
 options:{responsive:false,animation:false,events:[],
  layout:{padding:{left:0,top:cfg.top-cfg.oy,right:W-(cfg.right-cfg.ox),bottom:0}},
  plugins:{legend:{display:false},tooltip:{enabled:false},titles:{ox:cfg.ox,oy:cfg.oy,xt:cfg.xt,yt:cfg.yt,legend:cfg.legend}},
  scales:{
   x:{type:'linear',min:0,max:1,afterFit(s){s.height=H-(cfg.bottom-cfg.oy);},afterBuildTicks(s){s.ticks=xTicks.map(value=>({value}));},
    border:{color:'#000',width:1.6},grid:{drawOnChartArea:false,drawTicks:true,tickLength:6,color:'#000',lineWidth:1.4},
    ticks:{color:'#111',font:{family:'"Liberation Sans"',size:18},padding:cfg.star?5:2,maxRotation:0,autoSkip:false,callback:v=>v===0?'0':v.toFixed(1)}},
   y:{type:'linear',reverse:true,min:cfg.ymin,max:0,afterFit(s){s.width=cfg.left-cfg.ox;},
    border:{color:'#000',width:1.6},grid:{drawOnChartArea:false,drawTicks:true,tickLength:6,color:'#000',lineWidth:1.4},
    ticks:{stepSize:cfg.step,color:'#111',font:{family:'"Liberation Sans"',size:18,lineHeight:.8},padding:5,autoSkip:false,
     callback:v=>(v===0&&cfg.zeroLow)?['','0']:String(v)}}
  }}});}

panel({star:true,ox:0,oy:0,left:108,right:631,top:18,bottom:367,ymin:-200,step:20,coreR:6,
 fv:rows(absStarFv),dao:rows(absStarDao,[.2,.28,.33,.6,.85,.9]),giss:rows(absStarGiss,absStarBaseX),gissCore:rows(absStarGissCore,absStarBaseX),
 xt:[362,428],yt:{x:35,start:292,sub:'abs',subPos:195,sup:true,unit:148}});
panel({star:true,ox:650,oy:0,left:754,right:1276,top:18,bottom:367,ymin:-50,step:5,zeroLow:true,coreR:7.5,
 fv:rows(relStarFv),dao:rows(relStarDao,[.2,.29,.4]),daoCore:rows(relStarDaoCore),giss:rows(relStarGiss,relStarBaseX),gissCore:rows(relStarGissCore,relStarBaseX),
 xt:[1012,428],yt:{x:692,start:277,sub:'rel',subPos:180,unit:138}});
panel({star:false,ox:0,oy:435,left:108,right:631,top:453,bottom:800,ymin:-200,step:20,
 fv:rows(absDotFv,absDotBaseFv),dao:rows(absDotDao,absDotBaseDao),giss:rows(absDotGiss,absDotBaseGiss),
 xt:[363,865],yt:{x:37,start:728,sub:'abs',subPos:631,sup:true,unit:585},
 legend:[['DAO',COLORS.DAO,521,482],['GISS','#3d3f95',521,516],['FVGCM','#0a7a40',521,551]]});
panel({star:false,ox:650,oy:435,left:754,right:1276,top:453,bottom:800,ymin:-50,step:5,zeroLow:true,coreR:6,
 fv:rows(relDotFv,relDotBaseFv),dao:rows(relDotDao,relDotBaseDao),giss:rows(relDotGiss,relDotBaseGiss),gissCore:rows(relDotGissCore),
 xt:[1014,865],yt:{x:692,start:710,sub:'rel',subPos:613,unit:573}});
</script>
</body></html>
